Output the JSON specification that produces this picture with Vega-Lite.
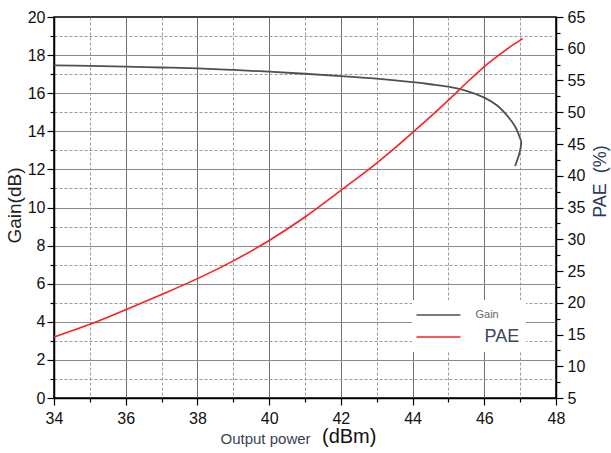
{
  "$schema": "https://vega.github.io/schema/vega-lite/v6.json",
  "width": 502,
  "height": 381,
  "autosize": {"type": "none"},
  "padding": {"left": 54, "top": 17, "right": 55, "bottom": 55},
  "background": "white",
  "config": {
    "font": "Liberation Sans",
    "view": {"stroke": "black", "strokeWidth": 1.5}
  },
  "title": {
    "text": "(dBm)",
    "orient": "bottom",
    "anchor": "start",
    "frame": "group",
    "dx": 268,
    "offset": -9,
    "baseline": "middle",
    "fontSize": 20,
    "fontWeight": "normal",
    "color": "#111111",
    "font": "Liberation Sans"
  },
  "data": {
    "values": [
      {"series": "Gain", "i": 1, "x": 34, "y": 17.46},
      {"series": "Gain", "i": 2, "x": 35, "y": 17.43},
      {"series": "Gain", "i": 3, "x": 36, "y": 17.39},
      {"series": "Gain", "i": 4, "x": 37, "y": 17.35},
      {"series": "Gain", "i": 5, "x": 38, "y": 17.3},
      {"series": "Gain", "i": 6, "x": 39, "y": 17.22},
      {"series": "Gain", "i": 7, "x": 40, "y": 17.13},
      {"series": "Gain", "i": 8, "x": 41, "y": 17.02},
      {"series": "Gain", "i": 9, "x": 42, "y": 16.9},
      {"series": "Gain", "i": 10, "x": 43, "y": 16.76},
      {"series": "Gain", "i": 11, "x": 44, "y": 16.58},
      {"series": "Gain", "i": 12, "x": 44.5, "y": 16.47},
      {"series": "Gain", "i": 13, "x": 45, "y": 16.34},
      {"series": "Gain", "i": 14, "x": 45.5, "y": 16.12},
      {"series": "Gain", "i": 15, "x": 46, "y": 15.77},
      {"series": "Gain", "i": 16, "x": 46.35, "y": 15.37},
      {"series": "Gain", "i": 17, "x": 46.62, "y": 14.86},
      {"series": "Gain", "i": 18, "x": 46.86, "y": 14.25},
      {"series": "Gain", "i": 19, "x": 47.0, "y": 13.63},
      {"series": "Gain", "i": 20, "x": 47.03, "y": 13.37},
      {"series": "Gain", "i": 21, "x": 46.98, "y": 12.85},
      {"series": "Gain", "i": 22, "x": 46.86, "y": 12.18},
      {"series": "PAE", "i": 1, "x": 34, "y": 14.6},
      {"series": "PAE", "i": 2, "x": 35, "y": 16.6},
      {"series": "PAE", "i": 3, "x": 36, "y": 18.9},
      {"series": "PAE", "i": 4, "x": 37, "y": 21.3},
      {"series": "PAE", "i": 5, "x": 38, "y": 23.8},
      {"series": "PAE", "i": 6, "x": 39, "y": 26.6},
      {"series": "PAE", "i": 7, "x": 40, "y": 29.8},
      {"series": "PAE", "i": 8, "x": 41, "y": 33.5},
      {"series": "PAE", "i": 9, "x": 42, "y": 37.7},
      {"series": "PAE", "i": 10, "x": 43, "y": 42.0},
      {"series": "PAE", "i": 11, "x": 44, "y": 46.8},
      {"series": "PAE", "i": 12, "x": 44.5, "y": 49.3},
      {"series": "PAE", "i": 13, "x": 45, "y": 51.9},
      {"series": "PAE", "i": 14, "x": 45.5, "y": 54.6},
      {"series": "PAE", "i": 15, "x": 46, "y": 57.2},
      {"series": "PAE", "i": 16, "x": 46.5, "y": 59.4},
      {"series": "PAE", "i": 17, "x": 46.8, "y": 60.6},
      {"series": "PAE", "i": 18, "x": 47.07, "y": 61.6}
    ]
  },
  "encoding": {
    "x": {
      "field": "x",
      "type": "quantitative",
      "scale": {"domain": [34, 48], "nice": false, "zero": false},
      "axis": {
        "values": [34, 35, 36, 37, 38, 39, 40, 41, 42, 43, 44, 45, 46, 47, 48],
        "labelExpr": "datum.value % 2 == 0 ? datum.label : ''",
        "labelOverlap": false,
        "labelFlush": false,
        "labelFontSize": 16,
        "labelColor": "#111111",
        "labelPadding": 5,
        "tickColor": "black",
        "tickWidth": 1.2,
        "tickSize": {"condition": {"test": "datum.value % 2 == 0", "value": 7}, "value": 4},
        "domainColor": "black",
        "domainWidth": 1.5,
        "grid": true,
        "gridColor": {"condition": {"test": "datum.value % 2 == 0", "value": "#707070"}, "value": "#9a9a9a"},
        "gridDash": {"condition": {"test": "datum.value % 2 == 0", "value": []}, "value": [3, 2]},
        "gridOpacity": {"condition": {"test": "datum.value == 34 || datum.value == 48", "value": 0}, "value": 1},
        "title": "Output power",
        "titleFontSize": 15,
        "titleFontWeight": "normal",
        "titleColor": "#3b4254",
        "titleAlign": "left",
        "titleBaseline": "middle",
        "titleX": 166,
        "titleY": 40
      }
    },
    "color": {
      "field": "series",
      "type": "nominal",
      "scale": {"domain": ["Gain", "PAE"], "range": ["#505050", "#ff1f1f"]},
      "legend": {
        "orient": "none",
        "legendX": 358,
        "legendY": 283,
        "title": null,
        "fillColor": "white",
        "padding": 6,
        "symbolType": "M-4,0H4",
        "symbolSize": 121,
        "symbolStrokeWidth": 1.5,
        "symbolOffset": 11.5,
        "labelOffset": 28,
        "rowPadding": 8,
        "labelFont": "Liberation Sans",
        "labelFontSize": 14,
        "labelExpr": "datum.label == 'PAE' ? 'PAE\u00a0\u00a0\u00a0' : datum.label",
        "encode": {
          "labels": {
            "update": {
              "fontSize": {"signal": "datum.value === 'Gain' ? 11 : 18"},
              "fill": {"signal": "datum.value === 'Gain' ? '#666666' : '#3d4660'"},
              "dx": {"signal": "datum.value === 'Gain' ? 0 : 9"}
            }
          }
        }
      }
    },
    "order": {"field": "i", "type": "quantitative"}
  },
  "layer": [
    {
      "transform": [{"filter": "datum.series === 'Gain'"}],
      "mark": {"type": "line", "interpolate": "cardinal", "strokeWidth": 1.8},
      "encoding": {
        "y": {
          "field": "y",
          "type": "quantitative",
          "scale": {"domain": [0, 20], "nice": false},
          "axis": {
            "orient": "left",
            "values": [0, 1, 2, 3, 4, 5, 6, 7, 8, 9, 10, 11, 12, 13, 14, 15, 16, 17, 18, 19, 20],
            "labelExpr": "datum.value % 2 == 0 ? datum.label : ''",
            "labelOverlap": false,
            "labelFlush": false,
            "labelFontSize": 16,
            "labelColor": "#111111",
            "labelPadding": 2,
            "tickColor": "black",
            "tickWidth": 1.2,
            "tickSize": {"condition": {"test": "datum.value % 2 == 0", "value": 7}, "value": 4},
            "domainColor": "black",
            "domainWidth": 1.5,
            "grid": true,
            "gridColor": {"condition": {"test": "datum.value % 2 == 0", "value": "#8a8a8a"}, "value": "#9a9a9a"},
            "gridDash": {"condition": {"test": "datum.value % 2 == 0", "value": []}, "value": [3, 2]},
            "gridOpacity": {"condition": {"test": "datum.value == 0 || datum.value == 20", "value": 0}, "value": 1},
            "title": "Gain(dB)",
            "titleFontSize": 19,
            "titleFontWeight": "normal",
            "titleColor": "#222222",
            "titleAngle": 270,
            "titleAlign": "center",
            "titleBaseline": "middle",
            "titleX": -40,
            "titleY": 188
          }
        }
      }
    },
    {
      "transform": [{"filter": "datum.series === 'PAE'"}],
      "mark": {"type": "line", "interpolate": "monotone", "strokeWidth": 1.6},
      "encoding": {
        "y": {
          "field": "y",
          "type": "quantitative",
          "scale": {"domain": [5, 65], "nice": false, "zero": false},
          "axis": {
            "orient": "right",
            "values": [5, 7.5, 10, 12.5, 15, 17.5, 20, 22.5, 25, 27.5, 30, 32.5, 35, 37.5, 40, 42.5, 45, 47.5, 50, 52.5, 55, 57.5, 60, 62.5, 65],
            "labelExpr": "datum.value % 5 == 0 ? datum.label : ''",
            "labelOverlap": false,
            "labelFlush": false,
            "labelFontSize": 16,
            "labelColor": "#111111",
            "labelPadding": 4,
            "tickColor": "black",
            "tickWidth": 1.2,
            "tickSize": {"condition": {"test": "datum.value % 5 == 0", "value": 7}, "value": 4},
            "domainColor": "black",
            "domainWidth": 1.5,
            "grid": false,
            "title": "PAE\u00a0\u00a0(%)",
            "titleFontSize": 18,
            "titleFontWeight": "normal",
            "titleColor": "#2d3a5a",
            "titleAngle": 270,
            "titleAlign": "center",
            "titleBaseline": "middle",
            "titleX": 44,
            "titleY": 164
          }
        }
      }
    }
  ],
  "resolve": {"scale": {"y": "independent"}}
}
